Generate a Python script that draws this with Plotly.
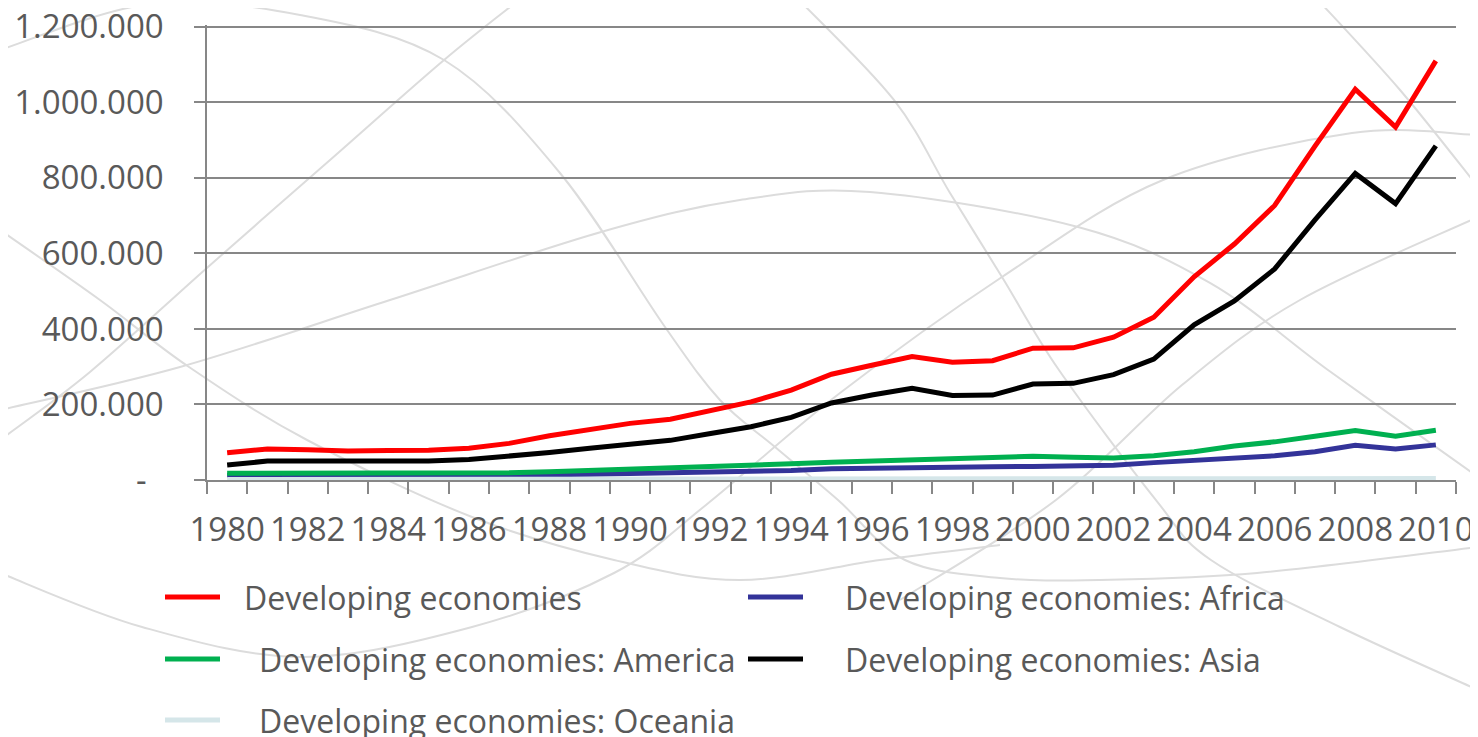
import plotly.graph_objects as go

# data (in US$ millions)
years = list(range(1980, 2011))

developing = [72000, 82000, 80000, 77000, 78000, 79000, 84000, 97000, 117000, 133000,
              150000, 161000, 185000, 207000, 238000, 280000, 304000, 327000, 312000, 316000,
              349000, 350000, 378000, 431000, 538000, 625000, 727000, 884000, 1035000, 935000,
              1110000]
africa = [12000, 12000, 11000, 11000, 11000, 11000, 12000, 13000, 14000, 15000,
          17000, 18000, 20000, 22000, 25000, 30000, 32000, 34000, 34000, 35000,
          36000, 37000, 39000, 46000, 53000, 57000, 64000, 75000, 92000, 82000,
          93000]
america = [18000, 18000, 17000, 16000, 16000, 17000, 18000, 19000, 22000, 25000,
           29000, 31000, 35000, 38000, 43000, 47000, 50000, 53000, 56000, 57000,
           63000, 60000, 58000, 64000, 75000, 90000, 101000, 116000, 131000, 116000,
           132000]
asia = [40000, 50000, 50000, 49000, 48000, 50000, 54000, 62000, 73000, 84000,
        95000, 105000, 123000, 141000, 166000, 204000, 225000, 243000, 224000, 225000,
        254000, 256000, 279000, 320000, 411000, 474000, 559000, 689000, 812000, 732000,
        885000]
oceania = [1500, 1500, 1500, 1500, 1500, 1500, 1600, 1700, 1800, 1900,
           2000, 2000, 2100, 2200, 2300, 2400, 2500, 2600, 2500, 2500,
           2600, 2600, 2700, 2800, 3000, 3100, 3300, 3500, 3800, 3400,
           3800]

series_names = ["Developing economies", "Developing economies: Africa",
                "Developing economies: America", "Developing economies: Asia",
                "Developing economies: Oceania"]
series_values = [developing, africa, america, asia, oceania]
series_colors = ["#FF0000", "#333399", "#00B050", "#000000", "#D5E6E9"]

y_ticks = [0, 200000, 400000, 600000, 800000, 1000000, 1200000]
y_ticktext = ["-\u00a0\u00a0", "200.000", "400.000", "600.000", "800.000", "1.000.000", "1.200.000"]
x_ticks = list(range(1980, 2011, 2))

# page has an 8px body margin, so the figure is drawn 8px smaller
OFF = 8
W, H = 1478 - OFF, 737 - OFF
L, R, T, B = 199, 22, 17, 257
GREY = "#878787"
TXT = "#595959"


def px(x):
    return (x - OFF - L) / (W - L - R)


def py(y):
    return (H - B - (y - OFF)) / (H - T - B)


def smooth_path(pts):
    # catmull-rom -> cubic bezier, in paper coords
    p = [(px(a), py(b)) for a, b in pts]
    d = "M %.4f,%.4f" % p[0]
    for i in range(len(p) - 1):
        p0 = p[i - 1] if i > 0 else p[i]
        p1, p2 = p[i], p[i + 1]
        p3 = p[i + 2] if i + 2 < len(p) else p2
        c1 = (p1[0] + (p2[0] - p0[0]) / 6, p1[1] + (p2[1] - p0[1]) / 6)
        c2 = (p2[0] - (p3[0] - p1[0]) / 6, p2[1] - (p3[1] - p1[1]) / 6)
        d += " C %.4f,%.4f %.4f,%.4f %.4f,%.4f" % (c1 + c2 + p2)
    return d


# faint background swirls of the slide theme (screen pixel positions)
swirls = [
    [(0, 50), (150, 4), (300, 15), (444, 60), (560, 173), (665, 327), (720, 400),
     (775, 447), (838, 500), (905, 560), (1000, 578), (1100, 580), (1257, 573), (1478, 547)],
    [(0, 440), (90, 372), (208, 267), (330, 160), (444, 60), (519, 0)],
    [(0, 410), (180, 367), (390, 300), (601, 232), (740, 200), (870, 192), (1078, 227),
     (1210, 283), (1328, 370), (1478, 477)],
    [(0, 573), (142, 627), (302, 657), (472, 627), (614, 573), (706, 505), (840, 393),
     (1002, 277), (1163, 180), (1352, 133), (1478, 135)],
    [(799, 0), (894, 100), (950, 193), (1002, 277), (1059, 370), (1156, 500), (1211, 560),
     (1340, 627), (1478, 690)],
    [(900, 600), (1056, 500), (1182, 385), (1300, 300), (1478, 217)],
    [(1318, 0), (1400, 90), (1478, 187)],
    [(0, 230), (100, 300), (189, 367), (307, 440), (472, 517), (614, 560), (740, 580),
     (880, 560), (1000, 545)],
]

fig = go.Figure()

for name, vals, col in zip(series_names, series_values, series_colors):
    fig.add_trace(go.Scatter(x=years, y=vals, mode="lines", name=name,
                             line=dict(color=col, width=5), showlegend=False))

shapes = []
for s in swirls:
    shapes.append(dict(type="path", path=smooth_path(s), xref="paper", yref="paper",
                       line=dict(color="#DCDCDC", width=2), layer="below"))

# legend drawn by hand (two columns like the original)
legend_pos = [(165, 242, 597), (748, 843, 597), (165, 257, 659), (748, 843, 659), (165, 257, 720)]
annotations = []
for (lx, tx, ly), name, col in zip(legend_pos, series_names, series_colors):
    shapes.append(dict(type="line", xref="paper", yref="paper",
                       x0=px(lx), x1=px(lx + 55), y0=py(ly), y1=py(ly),
                       line=dict(color=col, width=5), layer="above"))
    annotations.append(dict(text=name, xref="paper", yref="paper", x=px(tx), y=py(ly),
                            xanchor="left", yanchor="middle", showarrow=False,
                            font=dict(size=32, color=TXT)))

fig.update_layout(
    width=W, height=H, autosize=False,
    margin=dict(l=L, r=R, t=T, b=B, autoexpand=False),
    paper_bgcolor="white",
    plot_bgcolor="rgba(0,0,0,0)",
    font=dict(family="Open Sans", color=TXT, size=32),
    shapes=shapes,
    annotations=annotations,
    showlegend=False,
)

fig.update_xaxes(
    range=[1979.5, 2010.5],
    tickvals=x_ticks, ticktext=[str(v) for v in x_ticks],
    ticks="", showgrid=False, automargin=False,
    showline=True, linecolor=GREY, linewidth=1.5,
    tickfont=dict(size=33, color=TXT),
    ticklabelstandoff=20, ticklabeloverflow="allow",
    minor=dict(tick0=1979.5, dtick=1, ticks="outside", ticklen=12,
               tickcolor=GREY, tickwidth=1.5, showgrid=False),
    zeroline=False,
)
fig.update_yaxes(
    range=[0, 1205000], automargin=False,
    tickvals=y_ticks, ticktext=y_ticktext,
    ticks="outside", ticklen=11, tickcolor=GREY, tickwidth=1.5,
    showgrid=True, gridcolor=GREY, gridwidth=1.5,
    showline=True, linecolor=GREY, linewidth=1.5,
    zeroline=False,
    tickfont=dict(size=33, color=TXT),
    ticklabelstandoff=24, ticklabeloverflow="allow",
)

fig.write_html("out.html")
